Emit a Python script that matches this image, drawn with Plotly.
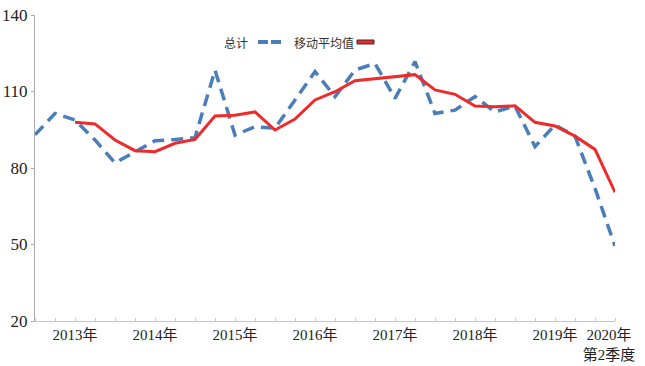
import plotly.graph_objects as go

quarters = list(range(30))  # 2013Q1 .. 2020Q2
total = [93, 101.4, 98.8, 91, 82, 86.4, 90.7, 91.2, 91.9, 118.4,
         92.9, 96.2, 95.6, 106.7, 117.8, 108, 118.4, 121, 107.3, 121.7,
         101.4, 102.7, 108, 102, 104.3, 88.4, 96.9, 92.5, 72, 49.4]
moving_avg = [None, None, 97.9, 97.3, 91, 86.8, 86.4, 89.7, 91.2, 100.4,
              100.7, 102, 94.9, 99.2, 106.7, 109.9, 114.2, 115.1, 115.8, 116.6,
              110.6, 108.9, 104.3, 104, 104.4, 97.9, 96.5, 92.5, 87.3, 70.5]
tick_pos = [2, 6, 10, 14, 18, 22, 26, 28.7]
tick_text = ["2013年", "2014年", "2015年", "2016年", "2017年", "2018年", "2019年", "2020年<br>第2季度"]
y_ticks = [20, 50, 80, 110, 140]

BLUE = "#4A7EBB"
RED = "#EE2A2A"

fig = go.Figure()
fig.add_trace(go.Scatter(x=quarters, y=total, mode="lines", name="总计",
                         line=dict(color=BLUE, width=3.5, dash="12px,7px"),
                         showlegend=False))
fig.add_trace(go.Scatter(x=quarters, y=moving_avg, mode="lines", name="移动平均值",
                         line=dict(color=RED, width=3),
                         showlegend=False))

W, H = 645, 366
L, R, T, B = 35, 30, 15, 45
PX0, PX1, PY0, PY1 = L, W - R, T, H - B

def px(x):
    return (x - PX0) / (PX1 - PX0)

def py(y):
    return (PY1 - y) / (PY1 - PY0)

legend_font = dict(family="Noto Sans CJK SC, sans-serif", size=12, color="#333")
fig.add_annotation(x=px(250), y=py(42), xref="paper", yref="paper", text="总计",
                   showarrow=False, xanchor="right", yanchor="middle", font=legend_font)
fig.add_annotation(x=px(356), y=py(42), xref="paper", yref="paper", text="移动平均值",
                   showarrow=False, xanchor="right", yanchor="middle", font=legend_font)
fig.add_shape(type="line", xref="paper", yref="paper", x0=px(258), x1=px(281),
              y0=py(42), y1=py(42), line=dict(color=BLUE, width=4, dash="10px,3px"))
fig.add_shape(type="rect", xref="paper", yref="paper", x0=px(357), x1=px(374),
              y0=py(40), y1=py(44), fillcolor=RED, line=dict(color="#333", width=1))

fig.update_layout(
    width=W, height=H, autosize=False,
    margin=dict(l=L, r=R, t=T, b=B, pad=0),
    paper_bgcolor="white", plot_bgcolor="white",
    xaxis=dict(range=[0, 29], tickmode="array", tickvals=tick_pos, ticktext=tick_text,
               ticks="", showgrid=False, zeroline=False, showline=True, automargin=False,
               ticklabeloverflow="allow",
               linecolor="#c8c8c8", linewidth=1,
               tickfont=dict(family="Liberation Serif, Noto Sans CJK SC, serif", size=15, color="#222"),
               minor=dict(tickmode="linear", tick0=0, dtick=1, ticks="inside",
                          ticklen=3, tickcolor="#c8c8c8", showgrid=False)),
    yaxis=dict(range=[20, 140], tickmode="array", tickvals=y_ticks,
               ticks="outside", ticklen=3, tickcolor="#aaaaaa", automargin=False,
               ticklabeloverflow="allow",
               showgrid=False, zeroline=False, showline=True,
               linecolor="#aaaaaa", linewidth=1,
               tickfont=dict(family="Liberation Serif, serif", size=17, color="#222")),
)

fig.write_html("out.html", config={"displayModeBar": False},
               post_script="document.body.style.margin='0';")
